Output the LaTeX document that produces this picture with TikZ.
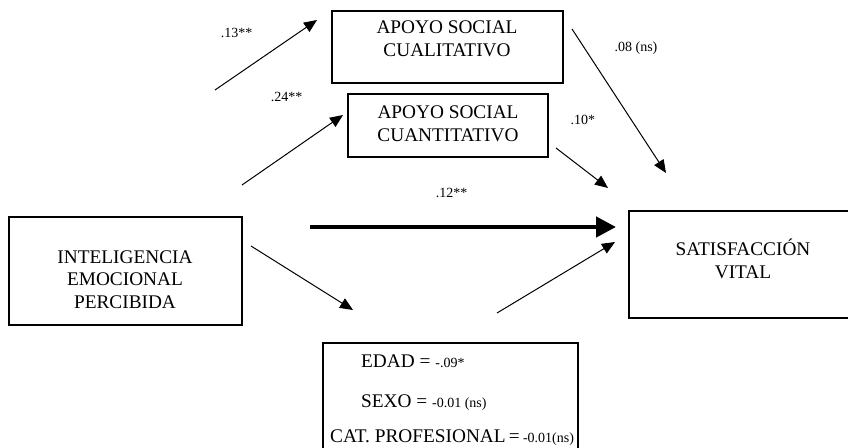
\documentclass[tikz,border=0pt]{standalone}
\usepackage{fontspec}
\setmainfont{Liberation Serif}
\usetikzlibrary{arrows.meta}
\newcommand{\smallsz}{\fontsize{14}{16}\selectfont}

\begin{document}
\begin{tikzpicture}[x=1pt, y=-1pt,
    box/.style={draw, line width=2pt, inner sep=0pt},
    big/.style={font=\fontsize{19.3}{22.5}\selectfont, align=center},
    small/.style={font=\smallsz},
    arr/.style={line width=1pt, -{Triangle[length=13pt, width=11pt]}},
    thick arr/.style={line width=4.5pt, -{Triangle[length=20pt, width=20pt]}}]
\useasboundingbox (0,0) rectangle (848,447);
% Define the boxes
\node[box, minimum width=231pt, minimum height=72pt] (cual) at (447.5,47) {};
\node[box, minimum width=200pt, minimum height=63pt] (cuan) at (448,125.5) {};
\node[box, minimum width=233pt, minimum height=108pt] (inte) at (125.5,271) {};
\node[box, minimum width=223pt, minimum height=107pt] (sat) at (740.5,264.3) {};
\node[box, minimum width=255pt, minimum height=109pt] (cov) at (450.5,397.5) {};
% Texts in the boxes
\node[big] (cualtxt) at (447,39) {APOYO SOCIAL\\CUALITATIVO};
\node[big] (cuantxt) at (448,124) {APOYO SOCIAL\\CUANTITATIVO};
\node[big] (intetxt) at (125,279.5) {INTELIGENCIA\\EMOCIONAL\\PERCIBIDA};
\node[big] (sattxt) at (743,259) {SATISFACCIÓN\\VITAL};
\node[big, anchor=base west, inner sep=0pt] (edad) at (361,367) {EDAD = {\smallsz-.09*}};
\node[big, anchor=base west, inner sep=0pt] (sexo) at (361,407) {SEXO = {\smallsz-0.01 (ns)}};
\node[big, anchor=base west, inner sep=0pt] (cat) at (330,442) {CAT. PROFESIONAL\,=\,{\smallsz-0.01(ns)}};
% Arrow ends
\coordinate (a13s) at (215,90);   \coordinate (a13e) at (317,20);
\coordinate (a24s) at (242,185);  \coordinate (a24e) at (343,115);
\coordinate (a08s) at (572,29);   \coordinate (a08e) at (666,173);
\coordinate (a10s) at (556,148);  \coordinate (a10e) at (608,188);
\coordinate (ints) at (251,246);  \coordinate (inte2) at (353,310);
\coordinate (covs) at (497,313);  \coordinate (cove) at (615,242);
\coordinate (a12s) at (310,227);  \coordinate (a12e) at (616,227);
% Add the arrows
\foreach \s/\e in {a13s/a13e, a24s/a24e, a08s/a08e, a10s/a10e, ints/inte2, covs/cove}
    \draw[arr] (\s) -- (\e);
\draw[thick arr] (a12s) -- (a12e);
% Path weights
\node[small] (w13) at (236.7,33.3) {.13**};
\node[small] (w24) at (286.7,96.7) {.24**};
\node[small] (w08) at (636,48) {.08 (ns)};
\node[small] (w10) at (582.8,120) {.10*};
\node[small] (w12) at (451.7,192.7) {.12**};
\end{tikzpicture}
\end{document}
